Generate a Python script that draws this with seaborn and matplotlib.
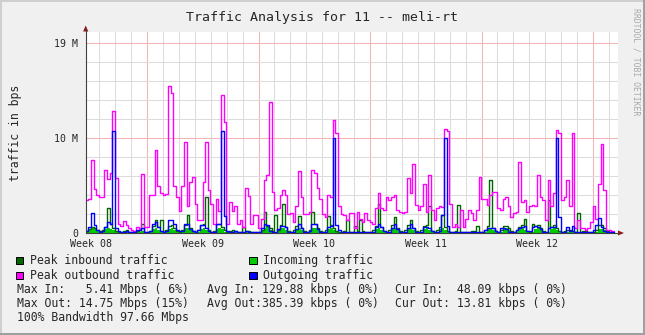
import numpy as np
import matplotlib
matplotlib.use("Agg")
import matplotlib.pyplot as plt
import seaborn as sns
from matplotlib.patches import Rectangle, Polygon
from matplotlib.lines import Line2D

sns.set_style("white")
plt.rcParams['font.family'] = ['DejaVu Sans Mono', 'DejaVu Sans']

# ---- data (values in the chart's "M" units, one value per 4-hour step) ----
peak_out = [3.5, 3.6, 7.7, 4.6, 4.0,
            3.8, 3.8, 6.6, 5.7, 6.3, 12.8,
            5.8, 1.0, 0.7, 1.3, 0.8, 0.5,
            0.3, 0.2, 0.6, 0.4, 6.2, 0.6,
            0.6, 4.0, 4.0, 8.7, 4.9, 4.2,
            4.0, 4.1, 15.5, 14.7, 5.0, 3.8,
            2.3, 5.0, 9.6, 2.8, 5.4, 5.9,
            3.1, 1.4, 1.4, 5.4, 9.6, 4.5,
            3.1, 1.0, 3.6, 2.3, 14.5, 11.7,
            1.0, 3.3, 2.3, 2.8, 1.0, 1.4,
            0.6, 4.7, 3.9, 1.0, 1.9, 1.9,
            0.5, 1.5, 5.6, 6.1, 13.8, 4.3,
            2.4, 2.6, 4.0, 4.5, 4.0, 2.0,
            2.1, 1.2, 2.8, 6.5, 3.8, 2.0,
            2.0, 2.2, 6.6, 6.3, 4.7, 3.6,
            2.0, 1.7, 4.0, 3.8, 11.9, 10.5,
            2.8, 2.0, 1.9, 1.4, 2.1, 2.1,
            0.5, 2.2, 1.5, 1.2, 2.1, 1.4,
            1.2, 1.0, 2.6, 4.2, 2.6, 2.4,
            3.8, 3.5, 3.8, 4.0, 2.4, 2.2,
            2.1, 2.2, 5.8, 4.2, 7.3, 2.9,
            2.4, 2.8, 5.2, 2.2, 6.1, 2.4,
            1.4, 2.6, 2.8, 2.7, 11.0, 10.7,
            3.1, 0.6, 0.9, 0.6, 2.4, 0.6,
            1.5, 2.4, 2.1, 1.4, 2.4, 5.9,
            3.6, 3.6, 2.9, 4.0, 4.3, 4.3,
            2.6, 2.4, 3.6, 3.8, 2.8, 1.7,
            2.1, 2.2, 7.5, 3.3, 3.5, 2.2,
            2.8, 2.9, 2.8, 6.1, 3.8, 3.5,
            1.4, 5.6, 2.8, 4.2, 10.8, 10.5,
            3.5, 3.8, 5.6, 2.8, 10.5, 0.5,
            1.4, 0.5, 0.5, 0.3, 0.5, 1.2,
            2.8, 1.5, 5.2, 9.4, 4.5, 0.3,
            0.3, 0.2]

avg_out = [0.2, 0.6, 2.1, 0.85, 0.3,
           0.1, 0.2, 0.65, 1.2, 0.9, 10.7,
           0.5, 0.2, 0.15, 0.15, 0.2, 0.1,
           0.1, 0.15, 0.3, 0.3, 0.5, 0.1,
           0.1, 0.2, 1.0, 1.2, 0.6, 0.2,
           0.1, 0.2, 1.4, 1.4, 1.0, 0.3,
           0.2, 0.2, 1.0, 0.9, 0.4, 0.2,
           0.1, 0.3, 0.8, 0.8, 0.5, 0.2,
           0.1, 0.1, 0.9, 0.9, 10.7, 1.8,
           0.2, 0.15, 0.1, 0.2, 0.1, 0.1,
           0.1, 0.2, 0.15, 0.1, 0.1, 0.1,
           0.1, 0.5, 1.0, 0.8, 0.2, 0.1,
           0.1, 0.4, 0.7, 0.7, 0.6, 0.1,
           0.1, 0.1, 0.4, 0.9, 0.5, 0.1,
           0.1, 0.2, 0.9, 0.9, 0.4, 0.1,
           0.1, 0.1, 0.6, 0.7, 10.0, 0.8,
           0.3, 0.1, 0.1, 0.1, 0.1, 0.1,
           0.1, 0.15, 0.1, 0.1, 0.1, 0.1,
           0.1, 0.1, 0.6, 0.9, 0.6, 0.2,
           0.1, 0.1, 0.5, 0.9, 0.4, 0.1,
           0.1, 0.1, 0.5, 0.9, 0.5, 0.1,
           0.1, 0.1, 0.6, 0.6, 0.5, 0.2,
           0.1, 0.1, 0.2, 1.9, 10.0, 0.7,
           0.1, 0.1, 0.1, 0.1, 0.1, 0.1,
           0.1, 0.1, 0.1, 0.1, 0.1, 0.1,
           0.1, 0.3, 0.5, 0.5, 0.5, 0.2,
           0.1, 0.5, 0.5, 0.4, 0.1, 0.1,
           0.1, 0.3, 0.5, 0.6, 0.7, 0.2,
           0.2, 0.6, 0.7, 0.6, 0.4, 0.1,
           0.1, 0.5, 0.6, 0.6, 10.0, 1.7,
           0.1, 0.1, 0.6, 0.2, 0.7, 0.1,
           0.1, 0.1, 0.1, 0.1, 0.1, 0.1,
           0.3, 0.8, 1.6, 0.6, 0.2, 0.1,
           0.1, 0.1]

avg_in = [0.1, 0.3, 0.5, 0.4, 0.2,
          0.1, 0.15, 0.4, 0.5, 0.4, 0.3,
          0.1, 0.05, 0.05, 0.1, 0.1, 0.05,
          0.05, 0.05, 0.1, 0.15, 0.2, 0.05,
          0.05, 0.1, 0.45, 0.55, 0.35, 0.1,
          0.05, 0.15, 0.45, 0.5, 0.3, 0.1,
          0.05, 0.1, 0.5, 0.5, 0.3, 0.1,
          0.05, 0.15, 0.45, 0.55, 0.3, 0.1,
          0.05, 0.1, 0.4, 0.5, 0.4, 0.1,
          0.05, 0.1, 0.15, 0.1, 0.05, 0.05,
          0.05, 0.1, 0.1, 0.05, 0.05, 0.05,
          0.05, 0.2, 0.5, 0.6, 0.3, 0.1,
          0.05, 0.2, 0.5, 0.55, 0.35, 0.1,
          0.05, 0.15, 0.45, 0.55, 0.3, 0.1,
          0.05, 0.15, 0.5, 0.55, 0.3, 0.1,
          0.05, 0.15, 0.45, 0.5, 0.3, 0.1,
          0.05, 0.05, 0.1, 0.1, 0.05, 0.05,
          0.05, 0.1, 0.15, 0.1, 0.05, 0.05,
          0.05, 0.15, 0.45, 0.55, 0.35, 0.1,
          0.05, 0.15, 0.45, 0.55, 0.3, 0.1,
          0.05, 0.15, 0.5, 0.55, 0.3, 0.1,
          0.05, 0.15, 0.45, 0.5, 0.35, 0.1,
          0.05, 0.15, 0.4, 0.5, 0.3, 0.1,
          0.05, 0.05, 0.1, 0.1, 0.05, 0.05,
          0.05, 0.05, 0.1, 0.1, 0.05, 0.05,
          0.05, 0.15, 0.45, 0.5, 0.3, 0.1,
          0.05, 0.15, 0.45, 0.5, 0.3, 0.1,
          0.05, 0.15, 0.4, 0.5, 0.35, 0.1,
          0.05, 0.15, 0.45, 0.5, 0.3, 0.1,
          0.05, 0.15, 0.4, 0.5, 0.3, 0.1,
          0.05, 0.1, 0.15, 0.15, 0.1, 0.05,
          0.05, 0.05, 0.1, 0.1, 0.05, 0.05,
          0.05, 0.15, 0.4, 0.45, 0.3, 0.1,
          0.05, 0.05]

peak_in = [0.2, 0.4, 0.6, 0.5, 0.3,
           0.2, 0.3, 0.6, 2.6, 0.9, 0.5,
           0.2, 0.1, 0.1, 0.2, 0.3, 0.1,
           0.1, 0.1, 0.2, 0.3, 1.0, 0.1,
           0.1, 0.2, 0.7, 1.4, 0.6, 1.4,
           0.1, 0.3, 0.7, 0.8, 0.5, 0.2,
           0.1, 0.3, 0.8, 1.9, 0.5, 0.2,
           0.1, 0.3, 0.8, 1.0, 3.8, 0.3,
           0.1, 0.2, 0.9, 1.0, 0.6, 0.3,
           0.1, 0.2, 0.3, 0.2, 0.1, 0.1,
           0.6, 0.2, 0.2, 0.1, 0.1, 0.1,
           0.1, 0.3, 2.2, 0.7, 0.5, 0.2,
           1.9, 0.3, 0.8, 3.1, 0.6, 0.2,
           0.1, 0.3, 0.7, 1.8, 0.5, 0.2,
           0.1, 0.3, 2.2, 0.9, 0.5, 0.2,
           0.1, 0.3, 1.8, 0.8, 0.5, 0.2,
           0.1, 0.1, 0.2, 1.4, 0.1, 0.1,
           0.7, 0.2, 1.4, 0.2, 0.1, 0.1,
           0.1, 0.3, 0.7, 3.1, 0.6, 0.2,
           0.1, 0.3, 0.8, 1.7, 0.5, 0.2,
           0.1, 0.3, 0.8, 1.4, 0.5, 0.2,
           0.1, 0.3, 0.7, 0.8, 2.8, 0.2,
           0.1, 0.3, 0.6, 1.9, 0.6, 0.2,
           0.1, 0.1, 0.2, 3.0, 0.1, 0.1,
           0.1, 0.1, 0.2, 0.2, 0.7, 0.1,
           0.1, 0.3, 0.7, 5.6, 0.5, 0.2,
           0.1, 0.3, 0.7, 0.7, 0.5, 0.2,
           0.1, 0.3, 0.6, 0.8, 1.5, 0.2,
           0.1, 0.9, 0.7, 0.8, 0.5, 0.2,
           0.1, 3.5, 0.6, 0.8, 0.5, 0.2,
           0.1, 0.2, 0.3, 0.3, 0.2, 0.1,
           2.1, 0.1, 0.2, 0.2, 0.1, 0.1,
           0.1, 0.3, 0.8, 0.8, 0.5, 0.2,
           0.1, 0.1]

week_labels = ["Week 08", "Week 09", "Week 10", "Week 11", "Week 12"]
week_label_days = [3.5, 10.5, 17.5, 24.5, 31.5]
y_ticks = [0, 10, 20]
y_tick_labels = ["0", "10 M", "19 M"]

legend_items = [("Peak inbound traffic", "#006600"), ("Incoming traffic", "#00cc00"),
                ("Peak outbound traffic", "#ff00ff"), ("Outgoing traffic", "#0000ff")]
stats_rows = [["Max In:   5.41 Mbps ( 6%)", "Avg In: 129.88 kbps ( 0%)", "Cur In:  48.09 kbps ( 0%)"],
              ["Max Out: 14.75 Mbps (15%)", "Avg Out:385.39 kbps ( 0%)", "Cur Out: 13.81 kbps ( 0%)"]]
bandwidth_text = "100% Bandwidth 97.66 Mbps"
title = "Traffic Analysis for 11 -- meli-rt"

# ---- layout helpers (pixel coords from top-left) ----
W, H = 645, 335
def fx(X): return X / W
def fy(Y): return 1 - Y / H

start_day = 3.15
step = 1 / 6
n = len(peak_out)
x = start_day + step * np.arange(n + 1)
def ext(v):
    v = np.asarray(v, dtype=float)
    return np.append(v, v[-1])

fig = plt.figure(figsize=(W / 100, H / 100), dpi=100, facecolor="#f0f0f0")
L, R, T, B = 85.7, 617.7, 32.3, 233.0
ax = fig.add_axes([fx(L), fy(B), (R - L) / W, (B - T) / H])
ax.set_facecolor("white")
px_per_day = 15.93
px_per_unit = 9.5
ax.set_xlim(start_day, start_day + (R - L) / px_per_day)
ax.set_ylim(0, (B - T) / px_per_unit)

# grid
for d in range(4, 37):
    c = "#f2b4b4" if d % 7 == 0 else "#dcdcdc"
    ax.axvline(d, color=c, lw=0.75, zorder=0)
for v in range(2, 22, 2):
    c = "#f2b4b4" if v % 10 == 0 else "#dcdcdc"
    ax.axhline(v, color=c, lw=0.75, zorder=0)

# data
ax.fill_between(x, ext(avg_in), step="post", color="#00cc00", lw=0, zorder=2)
sns.lineplot(x=x, y=ext(peak_in), drawstyle="steps-post", color="#006600",
             lw=1.0, ax=ax, estimator=None, sort=False, zorder=3)
sns.lineplot(x=x, y=ext(peak_out), drawstyle="steps-post", color="#ff00ff",
             lw=1.0, ax=ax, estimator=None, sort=False, zorder=4)
sns.lineplot(x=x, y=ext(avg_out), drawstyle="steps-post", color="#0000ff",
             lw=1.0, ax=ax, estimator=None, sort=False, zorder=5)

# ticks
ax.set_yticks(y_ticks)
ax.set_yticklabels(y_tick_labels, fontsize=7.1)
ax.set_xticks(week_label_days)
ax.set_xticklabels(week_labels, fontsize=7.2)
ax.tick_params(axis="both", length=0)
ax.tick_params(axis="y", pad=5.5)
ax.tick_params(axis="x", pad=4.2)
for s in ax.spines.values():
    s.set_visible(False)
ax.set_xlabel("")
ax.set_ylabel("")

# axes lines + arrows (figure pixel coordinates)
axis_col = "#404040"
arrow_col = "#8b1a1a"
fig.add_artist(Line2D([fx(L), fx(619)], [fy(B), fy(B)], color=axis_col, lw=0.8))
fig.add_artist(Line2D([fx(L), fx(L)], [fy(B), fy(30)], color=axis_col, lw=0.8))
fig.add_artist(Polygon([[fx(618), fy(230.5)], [fx(624), fy(B)], [fx(618), fy(235.5)]],
                       closed=True, color=arrow_col, lw=0))
fig.add_artist(Polygon([[fx(L - 2.6), fy(31.5)], [fx(L), fy(25.5)], [fx(L + 2.6), fy(31.5)]],
                       closed=True, color=arrow_col, lw=0))

# frame
fig.add_artist(Line2D([0, 1], [fy(0.7), fy(0.7)], color="#cfcfcf", lw=1.4))
fig.add_artist(Line2D([fx(0.7), fx(0.7)], [0, 1], color="#cfcfcf", lw=1.4))
fig.add_artist(Line2D([0, 1], [fy(334.3), fy(334.3)], color="#9e9e9e", lw=1.4))
fig.add_artist(Line2D([fx(644.3), fx(644.3)], [0, 1], color="#9e9e9e", lw=1.4))

# texts
fig.text(fx(322.5), fy(17), title, ha="center", va="center", fontsize=9.5)
fig.text(fx(16), fy(132.5), "traffic in bps", rotation=90, ha="center", va="center", fontsize=8.3)
fig.text(fx(636), fy(8), "RRDTOOL / TOBI OETIKER", rotation=270, ha="center", va="top",
         fontsize=5.9, color="#a8a8a8")

# legend
leg_fs = 8.3
rows_y = [260.7, 275.2, 289.2, 303.4, 317.5]
col_box = [19.3, 253.0]
col_txt = [30.0, 263.3]
for k, (lab, col) in enumerate(legend_items):
    r, c = divmod(k, 2)
    bx, by = col_box[c], rows_y[r]
    fig.add_artist(Rectangle((fx(bx - 3.6), fy(by + 3.6)), 7.2 / W, 7.2 / H,
                             facecolor=col, edgecolor="black", lw=0.7))
    fig.text(fx(col_txt[c]), fy(by), lab, ha="left", va="center", fontsize=leg_fs)
stat_x = [16.7, 206.7, 395.0]
for r, row in enumerate(stats_rows):
    for c, s in enumerate(row):
        fig.text(fx(stat_x[c]), fy(rows_y[2 + r]), s, ha="left", va="center", fontsize=leg_fs)
fig.text(fx(16.7), fy(rows_y[4]), bandwidth_text, ha="left", va="center", fontsize=leg_fs)

fig.savefig("out.png", dpi=100, facecolor=fig.get_facecolor())
